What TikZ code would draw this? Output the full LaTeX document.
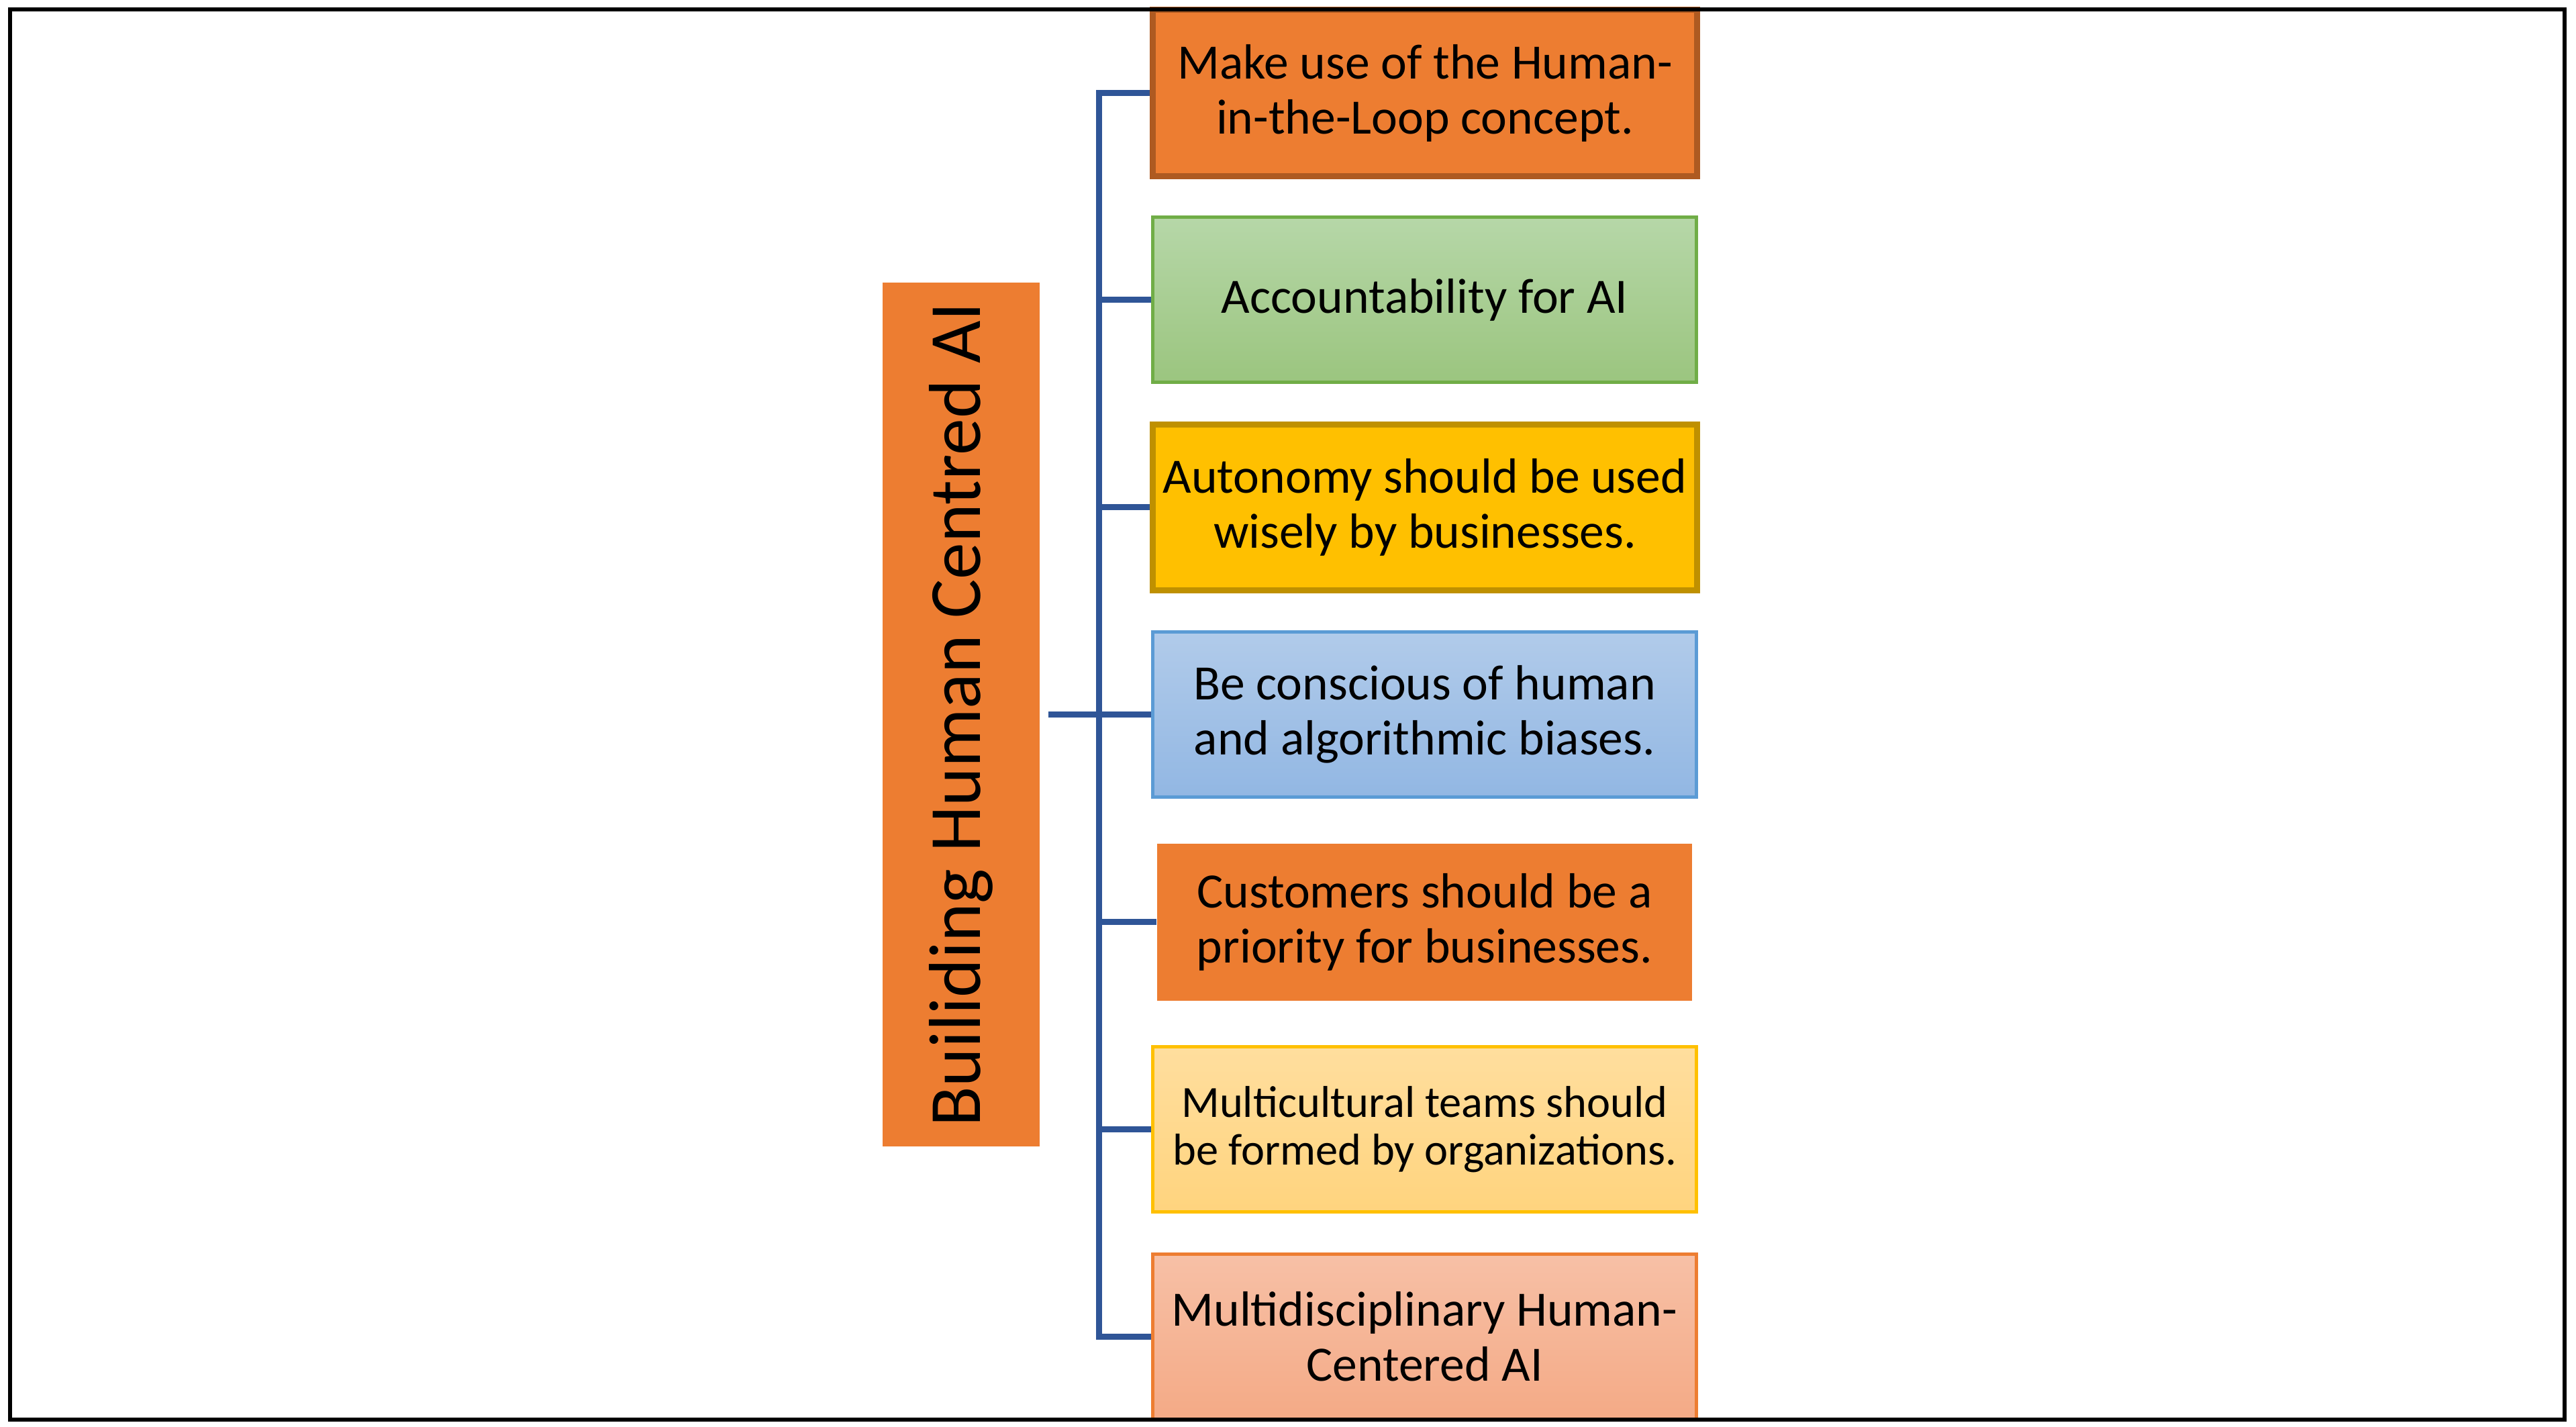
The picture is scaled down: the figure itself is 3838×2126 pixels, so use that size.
\documentclass[tikz,border=0pt]{standalone}
\usepackage{fontspec}
\usepackage{graphicx}
\setmainfont{Carlito}
\definecolor{orgfill}{HTML}{ED7D31}
\definecolor{orgdark}{HTML}{AE5A21}
\definecolor{grnline}{HTML}{70AD47}
\definecolor{grntop}{HTML}{B6D7A8}
\definecolor{grnbot}{HTML}{9BC57F}
\definecolor{yelfill}{HTML}{FFC000}
\definecolor{yeldark}{HTML}{BF9000}
\definecolor{blueline}{HTML}{5B9BD5}
\definecolor{bluetop}{HTML}{B1CBEA}
\definecolor{bluebot}{HTML}{92B7E3}
\definecolor{goldtop}{HTML}{FFDE9E}
\definecolor{goldbot}{HTML}{FFD47E}
\definecolor{salmtop}{HTML}{F7C0A6}
\definecolor{salmbot}{HTML}{F4AA86}
\definecolor{connblue}{HTML}{2F5597}
\begin{document}
\begin{tikzpicture}[x=0.25pt,y=-0.25pt,
  box/.style={rectangle, inner sep=0pt, align=center, text=black,
    font=\fontsize{18.4}{20.5}\selectfont},
  thickbox/.style={box, line width=2.25pt, minimum width=202.75pt, minimum height=61.9pt},
  thinbox/.style={box, line width=1.25pt, minimum width=202.5pt, minimum height=61.5pt},
  conn/.style={draw=connblue, line width=2.25pt},
]
\useasboundingbox (0,0) rectangle (3838,2126);
\fill[white] (0,0) rectangle (3838,2126);

% main box
\node[box, fill=orgfill, minimum width=58.5pt, minimum height=321.75pt,
  font=\fontsize{27.4}{32}\selectfont] (main) at (1432,1064.5)
  {\rotatebox{90}{Builiding Human Centred AI}};

% branch boxes
\node[thickbox, fill=orgfill, draw=orgdark] (b1) at (2123,138.5)
  {Make use of the Human-\\in-the-Loop concept.};
\node[thinbox, draw=grnline, top color=grntop, bottom color=grnbot] (b2) at (2122.5,447)
  {Accountability for AI};
\node[thickbox, fill=yelfill, draw=yeldark] (b3) at (2123,756)
  {Autonomy should be used\\wisely by businesses.};
\node[thinbox, draw=blueline, top color=bluetop, bottom color=bluebot] (b4) at (2122.5,1064.5)
  {Be conscious of human\\and algorithmic biases.};
\node[box, fill=orgfill, minimum width=199.25pt, minimum height=58.5pt] (b5) at (2122.5,1374)
  {Customers should be a\\priority for businesses.};
\node[thinbox, draw=yelfill, top color=goldtop, bottom color=goldbot,
  font=\fontsize{16.6}{17.75}\selectfont] (b6) at (2122.5,1682.5)
  {Multicultural teams should\\be formed by organizations.};
\node[thinbox, draw=orgfill, top color=salmtop, bottom color=salmbot] (b7) at (2122.5,1991.5)
  {Multidisciplinary Human-\\Centered AI};

% connectors
\coordinate (bus) at (1637,1064.5);
\draw[conn] (b1.west) -| (bus) |- (b7.west);
\draw[conn] (bus |- b2.west) -- (b2.west);
\draw[conn] (bus |- b3.west) -- (b3.west);
\draw[conn] (bus |- b4.west) -- (b4.west);
\draw[conn] (bus |- b5.west) -- (b5.west);
\draw[conn] (bus |- b6.west) -- (b6.west);
\draw[conn, shorten <=3pt] (main.east) -- (bus);

% outer frame
\draw[line width=1.5pt, black] (14.5,14.5) rectangle (3821,2115);
\end{tikzpicture}
\end{document}
